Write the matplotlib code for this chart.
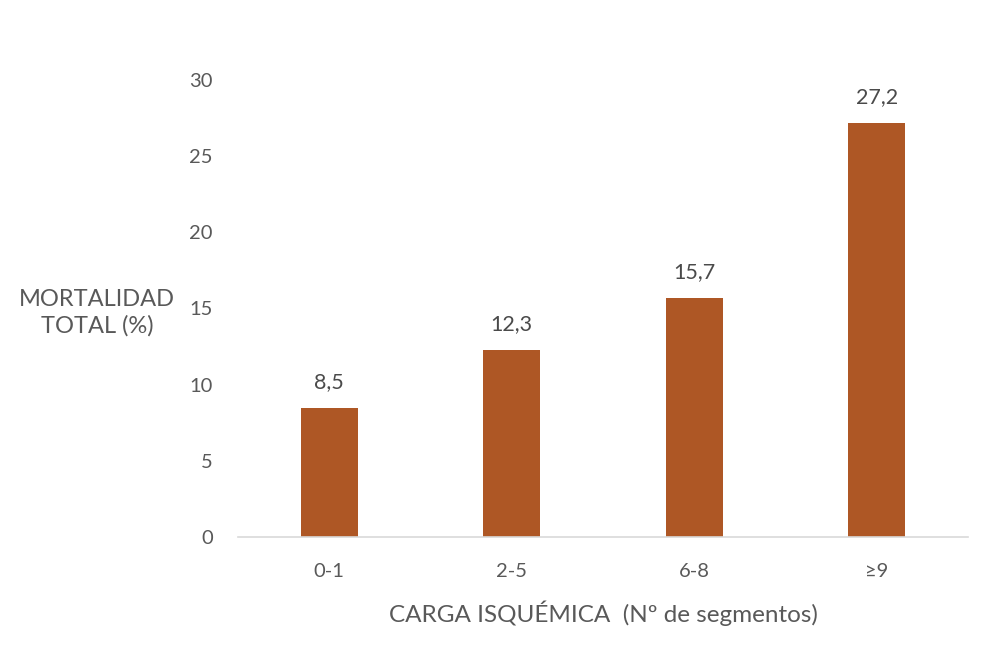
import matplotlib
matplotlib.use('Agg')
import matplotlib.pyplot as plt
import numpy as np

# datos
categorias = ['0-1', '2-5', '6-8', '≥9']
mortalidad = [8.5, 12.3, 15.7, 27.2]
etiquetas = ['8,5', '12,3', '15,7', '27,2']

plt.rcParams['font.family'] = ['Lato', 'DejaVu Sans']
gris = '#595959'
marron = '#AE5725'

fig = plt.figure(figsize=(10, 6.61), dpi=100)
ax = fig.add_axes([0.238, 0.1876, 0.730, 0.6914])

x = np.arange(len(categorias))
ax.bar(x, mortalidad, width=0.31, color=marron)

# etiquetas de valor encima de cada barra
for xi, v, t in zip(x, mortalidad, etiquetas):
    ax.text(xi, v + 1.0, t, ha='center', va='bottom', fontsize=15.5, color='#4a4a4a')

ax.set_xlim(-0.5, len(categorias) - 0.5)
ax.set_ylim(0, 30)
ax.set_yticks(range(0, 31, 5))
ax.set_xticks(x)
ax.set_xticklabels(categorias)
ax.tick_params(axis='both', length=0, labelsize=14.5, colors=gris)
ax.tick_params(axis='y', pad=18)
ax.tick_params(axis='x', pad=19)

for s in ['top', 'right', 'left']:
    ax.spines[s].set_visible(False)
ax.spines['bottom'].set_color('#D9D9D9')
ax.spines['bottom'].set_linewidth(1.2)

fig.text(0.097, 0.527, 'MORTALIDAD\nTOTAL (%)', ha='center', va='center',
         fontsize=17, color=gris, linespacing=1.25)
fig.text(0.603, 0.072, 'CARGA ISQUÉMICA  (Nº de segmentos)', ha='center', va='center',
         fontsize=17.5, color=gris)

plt.savefig('out.png')
